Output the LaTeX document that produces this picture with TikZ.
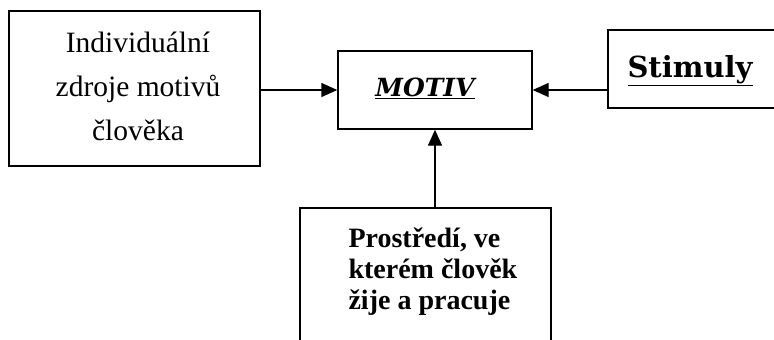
\documentclass[tikz,border=0pt]{standalone}
\usepackage{fontspec}
\setmainfont{Liberation Serif}
\newfontfamily\bookish{DejaVu Serif}
\usetikzlibrary{arrows.meta}
\begin{document}
\begin{tikzpicture}[x=1pt,y=-1pt,
  boxstyle/.style={draw=black,line width=1.4pt,rectangle,inner sep=0pt},
  conn/.style={line width=1.4pt,-{Triangle[length=16pt,width=14pt]}}]
\useasboundingbox (0,0) rectangle (774,340);
\clip (0,0) rectangle (774,340);
\fill[white] (0,0) rectangle (774,340);
\node[boxstyle,minimum width=251pt,minimum height=155pt] (ind) at (134.5,88.5) {};
\node[font=\fontsize{29.5}{44}\selectfont,align=center] (indt) at (138,86) {Individuální\\zdroje motivů\\člověka};
\node[boxstyle,minimum width=194pt,minimum height=78pt] (mot) at (435,90) {};
\node[font=\bookish\bfseries\itshape\fontsize{25}{30}\selectfont] (mott) at (425,88) {\underline{MOTIV}};
\node[boxstyle,minimum width=190pt,minimum height=78pt] (stim) at (703,69) {};
\node[font=\bookish\bfseries\fontsize{29}{30}\selectfont] (stimt) at (690,71) {\underline{Stimuly}};
\node[boxstyle,minimum width=251pt,minimum height=150pt] (env) at (425.5,283) {};
\node[font=\bfseries\fontsize{28}{31}\selectfont,align=left,anchor=west] (envt) at (345,272) {Prostředí, ve\\kterém člověk\\žije a pracuje};
\draw[conn] (ind.east |- mot) -- (mot.west);
\draw[conn] (stim.west |- mot) -- (mot.east);
\draw[conn] (env.north -| mot) -- (mot.south);
\end{tikzpicture}
\end{document}
